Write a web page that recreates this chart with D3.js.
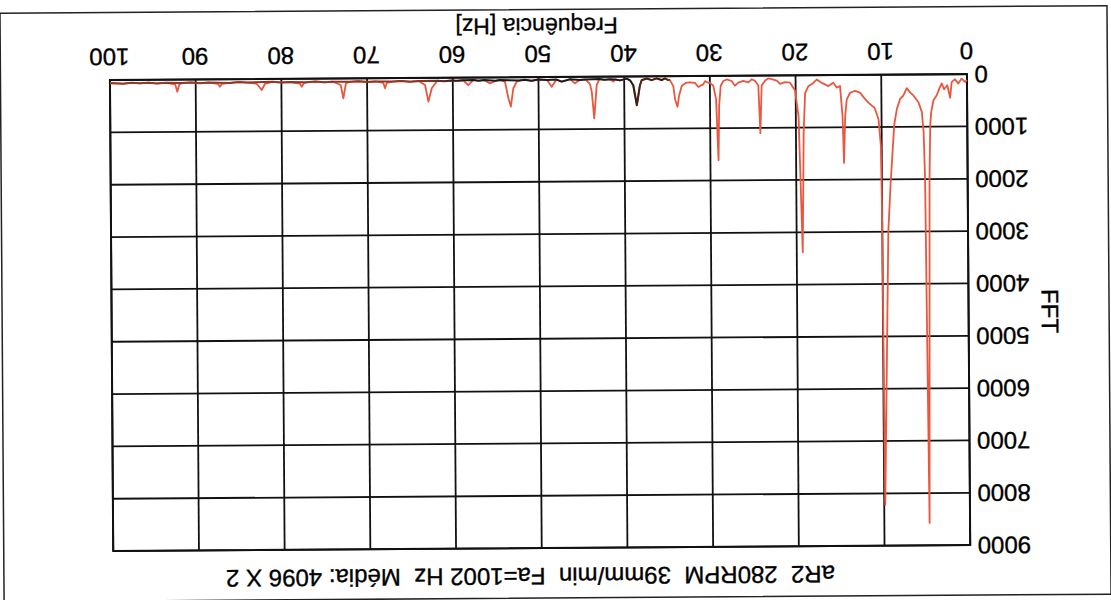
<!DOCTYPE html>
<html><head><meta charset="utf-8">
<script src="https://cdn.jsdelivr.net/npm/d3@7"></script>
<style>
html,body{margin:0;padding:0;background:#fff;}
svg{display:block;font-family:"Liberation Sans",Arial,Helvetica,sans-serif;}
</style></head><body>
<svg id="chart" width="1111" height="600"></svg>
<script>
// ---- data ----
const xTicks = [0,10,20,30,40,50,60,70,80,90,100];
const yTicks = [0,1000,2000,3000,4000,5000,6000,7000,8000,9000];
const titleText = "aR2  280RPM  39mm/min  Fa=1002 Hz  Média: 4096 X 2";
const xLabel = "Frequência [Hz]";
const yLabel = "FFT";

// red FFT trace: [frequency Hz, FFT]
const redTrace = [
[0,115],[0.23,150],[0.62,85],[1.02,180],[1.4,95],[1.79,150],[1.98,450],[2.3,210],[2.68,285],[2.95,175],
[3.23,270],[3.54,400],[3.93,495],[4.2,720],[4.32,950],[4.45,2000],[4.72,8570],[4.97,2000],[5.1,1100],
[5.29,720],[5.68,530],[6.27,400],[6.65,340],[7.04,260],[7.43,400],[7.82,465],[8.2,655],[8.52,950],[8.75,1500],
[9.0,2100],[9.3,3000],[9.88,8220],[10.02,2600],[10.1,1360],[10.35,850],[10.82,625],[11.12,590],[11.52,530],
[11.9,465],[12.49,340],[13.07,305],[13.65,340],[14.04,465],[14.24,785],[14.41,1680],[14.55,785],[14.82,210],
[15.2,240],[15.6,147],[16.18,210],[16.57,178],[16.95,147],[17.54,83],[17.93,147],[18.51,210],[18.9,340],
[19.1,1100],[19.3,3380],[19.68,785],[20.07,290],[20.65,140],[21.24,130],[21.82,160],[22.2,100],[22.79,70],
[23.19,55],[23.57,100],[23.96,190],[24.15,1100],[24.35,190],[24.74,100],[25.12,70],[25.52,130],[26.1,100],
[26.69,130],[27.07,190],[27.46,100],[28.04,70],[28.44,100],[28.74,190],[28.94,570],[29.05,1610],[29.29,450],
[29.6,190],[29.99,130],[30.19,130],[30.57,100],[30.77,160],[31.15,190],[31.35,210],[31.74,130],[32.32,120],
[32.82,130],[33.29,190],[33.61,380],[33.8,585],[34.07,450],[34.27,190],[34.66,75],
[34.85,73],[35.24,40],[35.62,73],[36.21,40],[36.79,73],[37.37,40],[37.96,73],[38.16,168],[38.35,360],[38.54,550],
[38.74,360],[38.94,168],[39.32,73],[39.71,40],[40.0,55],[40.49,73],[41.07,55],[41.27,97],[41.6,50],[42.3,60],
[42.9,45],[43.21,160],[43.52,795],[43.79,290],[43.99,140],[44.5,50],[45.2,60],[45.74,125],[46.3,45],[47.29,90],
[47.9,50],[48.46,185],[49.0,55],[50.0,45],[50.8,70],[51.6,50],[52.2,60],[52.54,85],[52.94,210],[53.24,560],
[53.52,400],[53.91,85],[54.5,50],[55.0,65],[55.66,113],[56.3,50],[57.0,60],[57.6,45],[58.19,145],[58.8,50],
[59.5,60],[60.2,55],[61.0,65],[61.8,55],[62.46,200],[62.86,455],[63.24,135],[64,60],[65,70],[66,55],[67,65],
[67.7,90],[67.91,193],[68.1,90],[69,60],[70,70],[71,55],[72,65],[72.46,90],[72.78,378],[73.08,124],[74,60],
[75,70],[76,55],[77,65],[77.4,90],[77.63,151],[77.85,90],[79,60],[80,70],[81,55],[81.91,90],[82.3,210],
[82.88,90],[84,65],[85,55],[86,70],[86.95,85],[87.17,141],[87.4,85],[88.5,60],[89.5,70],[90.5,55],[91.5,65],
[91.9,90],[92.15,231],[92.4,90],[93.5,60],[94.5,70],[95.5,55],[96.5,65],[97.5,55],[98.5,70],[99.5,60],[100,60]
];

// dark (black / brown) print of the same trace, 34.7 - 100 Hz
const darkTrace = [
[34.66,75],[34.85,73],[35.24,40],[35.62,73],[36.21,40],[36.79,73],[37.37,40],[37.96,73],[38.16,168],[38.35,360],
[38.54,550],[38.74,360],[38.94,168],[39.32,73],[39.71,40],[40.0,55],[40.49,73],[41.07,55],[41.6,50],[42.3,60],
[42.9,45],[44.5,50],[45.2,60],[46.3,45],[47.29,90],[47.9,50],[49.0,55],[50.0,45],[50.8,70],[51.6,50],[52.2,60],
[54.5,50],[55.0,65],[56.3,50],[57.0,60],[57.6,45],[58.8,50],[59.5,60],[60.2,55],[61.0,65],[61.8,55],[64,60],
[65,70],[66,55],[67,65],[69,60],[70,70],[71,55],[72,65],[74,60],[75,70],[76,55],[77,65],[79,60],[80,70],[81,55],
[84,65],[85,55],[86,70],[88.5,60],[89.5,70],[90.5,55],[91.5,65],[93.5,60],[94.5,70],[95.5,55],[96.5,65],
[97.5,55],[98.5,70],[99.5,60],[100,60]
];

// ---- drawing ----
const W = 1111, H = 600;
const margin = {left:142.5, right:111.5, top:52, bottom:77};
const svg = d3.select("#chart");
svg.append("rect").attr("width",W).attr("height",H).attr("fill","#fff");

// the scanned page is upside down and slightly skewed
const g = svg.append("g").attr("transform", `rotate(179.6, ${W/2}, ${H/2})`);

const x = d3.scaleLinear().domain([0,100]).range([margin.left, W - margin.right]);
const y = d3.scaleLinear().domain([0,9000]).range([H - margin.bottom, margin.top]);

// page frame
g.append("rect").attr("x",2).attr("y",2).attr("width",W-4).attr("height",588.5)
 .attr("fill","none").attr("stroke","#222").attr("stroke-width",1.5);

// grid
g.append("g").selectAll("line").data(xTicks).join("line")
 .attr("x1",d=>x(d)).attr("x2",d=>x(d)).attr("y1",y(0)).attr("y2",y(9000))
 .attr("stroke","#111").attr("stroke-width",1.8);
g.append("g").selectAll("line").data(yTicks).join("line")
 .attr("x1",x(0)).attr("x2",x(100)).attr("y1",d=>y(d)).attr("y2",d=>y(d))
 .attr("stroke","#111").attr("stroke-width",1.8);
g.append("rect").attr("x",x(0)).attr("y",y(9000)).attr("width",x(100)-x(0)).attr("height",y(0)-y(9000))
 .attr("fill","none").attr("stroke","#111").attr("stroke-width",2);

// gradient for the dark trace
const defs = svg.append("defs");
const grad = defs.append("linearGradient").attr("id","darkGrad").attr("gradientUnits","userSpaceOnUse")
 .attr("x1",x(34)).attr("x2",x(100)).attr("y1",0).attr("y2",0);
const off = v => (x(v)-x(34))/(x(100)-x(34));
grad.append("stop").attr("offset",0).attr("stop-color","#c0452e");
grad.append("stop").attr("offset",off(35.5)).attr("stop-color","#2a1a14");
grad.append("stop").attr("offset",off(38)).attr("stop-color","#4a2518");
grad.append("stop").attr("offset",off(39.5)).attr("stop-color","#1a1a1a");
grad.append("stop").attr("offset",off(59)).attr("stop-color","#1a1a1a");
grad.append("stop").attr("offset",off(63)).attr("stop-color","#8a3526");
grad.append("stop").attr("offset",1).attr("stop-color","#93392a");

const line = d3.line().x(d=>x(d[0])).y(d=>y(d[1]));
g.append("path").datum(redTrace).attr("d",line).attr("fill","none")
 .attr("stroke","#e9573f").attr("stroke-width",1.8).attr("stroke-linejoin","round");
g.append("path").datum(darkTrace).attr("d",line).attr("fill","none")
 .attr("stroke","url(#darkGrad)").attr("stroke-width",2).attr("stroke-linejoin","round");

// axes
const fontSize = 24;
const xAxis = g.append("g").attr("transform",`translate(0,${y(0)})`)
 .call(d3.axisBottom(x).tickValues(xTicks).tickSize(0).tickPadding(14.5).tickFormat(d3.format("d")));
const yAxis = g.append("g").attr("transform",`translate(${x(0)},0)`)
 .call(d3.axisLeft(y).tickValues(yTicks).tickSize(0).tickPadding(7.5).tickFormat(d3.format("d")));
[xAxis,yAxis].forEach(a=>{
  a.select(".domain").remove();
  a.selectAll("text").attr("font-size",fontSize).attr("fill","#000")
   .attr("stroke","#000").attr("stroke-width",0.35)
   .attr("font-family",'"Liberation Sans",Arial,sans-serif');
});

// labels
g.append("text").attr("x",572.5).attr("y",582).attr("text-anchor","middle")
 .attr("font-size",23).attr("fill","#000").attr("stroke","#000").attr("stroke-width",0.3).text(xLabel);
g.append("text").attr("transform","translate(69.5,285.5) rotate(-90)").attr("text-anchor","middle")
 .attr("font-size",24).attr("fill","#000").attr("stroke","#000").attr("stroke-width",0.35).text(yLabel);
g.append("text").attr("x",582.4).attr("y",32.2).attr("text-anchor","middle")
 .attr("font-size",24).attr("fill","#000").attr("stroke","#000").attr("stroke-width",0.35)
 .style("white-space","pre").text(titleText);
</script>
</body></html>
